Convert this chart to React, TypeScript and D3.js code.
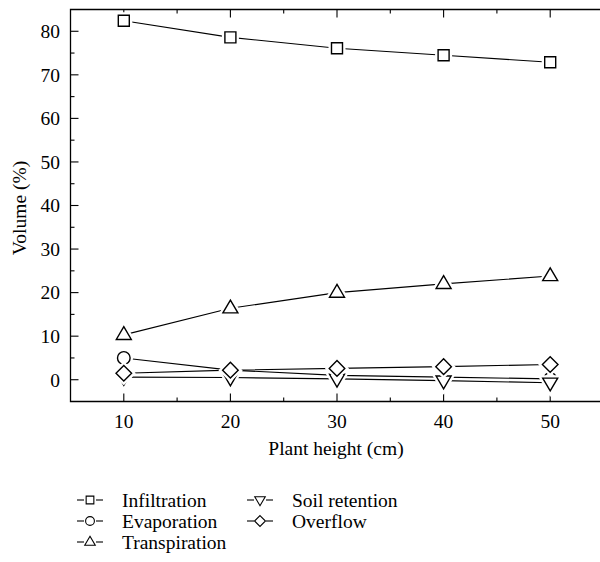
import React from "react";
import * as d3 from "d3";

const heights = [10, 20, 30, 40, 50];
const infiltration = [82.4, 78.6, 76.1, 74.5, 72.9];
const evaporation = [5.0, 2.2, 1.0, 0.6, 0.2];
const transpiration = [10.3, 16.4, 20.0, 22.0, 23.8];
const soilRetention = [0.6, 0.5, 0.2, -0.2, -0.7];
const overflow = [1.5, 2.2, 2.6, 3.0, 3.5];
const yTickValues = [0, 10, 20, 30, 40, 50, 60, 70, 80];
const xTickValues = [10, 20, 30, 40, 50];

type Shape = "square" | "circle" | "triangle" | "triangleDown" | "diamond";

const seriesList: { name: string; values: number[]; shape: Shape }[] = [
  { name: "Infiltration", values: infiltration, shape: "square" },
  { name: "Evaporation", values: evaporation, shape: "circle" },
  { name: "Transpiration", values: transpiration, shape: "triangle" },
  { name: "Soil retention", values: soilRetention, shape: "triangleDown" },
  { name: "Overflow", values: overflow, shape: "diamond" },
];

const FONT = "'Liberation Serif', 'DejaVu Serif', serif";
const FS = 19.5;

function markerPath(shape: Shape, cx: number, cy: number, k: number): string {
  const p = d3.path();
  if (shape === "square") {
    const h = 5.5 * k;
    p.rect(cx - h, cy - h, 2 * h, 2 * h);
  } else if (shape === "circle") {
    p.moveTo(cx + 6.3 * k, cy);
    p.arc(cx, cy, 6.3 * k, 0, Math.PI * 2);
  } else if (shape === "triangle") {
    const w = 7.5 * k, hTop = 8.2 * k, hBot = 4.6 * k;
    p.moveTo(cx, cy - hTop);
    p.lineTo(cx + w, cy + hBot);
    p.lineTo(cx - w, cy + hBot);
    p.closePath();
  } else if (shape === "triangleDown") {
    const w = 7.5 * k, hTop = 4.6 * k, hBot = 8.2 * k;
    p.moveTo(cx - w, cy - hTop);
    p.lineTo(cx + w, cy - hTop);
    p.lineTo(cx, cy + hBot);
    p.closePath();
  } else {
    const h = 7.8 * k;
    p.moveTo(cx, cy - h);
    p.lineTo(cx + h, cy);
    p.lineTo(cx, cy + h);
    p.lineTo(cx - h, cy);
    p.closePath();
  }
  return p.toString();
}

export default function App() {
  const left = 70.5, right = 603.5, top = 9.5, bottom = 401.5;
  const x = d3.scaleLinear().domain([5, 55]).range([left, right]);
  const y = d3.scaleLinear().domain([-5, 85]).range([bottom, top]);
  const line = d3
    .line<number>()
    .x((_, i) => x(heights[i]))
    .y((d) => y(d));

  const xMinor = d3.range(15, 55, 10);
  const yMinor = d3.range(-5, 85, 10).filter((v) => v > -5);

  const legendRows = [
    { s: seriesList[0], lx: 90, ly: 500 },
    { s: seriesList[1], lx: 90, ly: 521 },
    { s: seriesList[2], lx: 90, ly: 542 },
    { s: seriesList[3], lx: 260, ly: 500 },
    { s: seriesList[4], lx: 260, ly: 521 },
  ];

  return (
    <svg
      width={600}
      height={562}
      style={{ position: "absolute", left: 0, top: 0, background: "#fff" }}
      fontFamily={FONT}
    >
      <rect x={0} y={0} width={600} height={562} fill="#fff" />
      {/* frame */}
      <path
        d={`M${right},${top}H${left}V${bottom}H${right}`}
        fill="none"
        stroke="#000"
        strokeWidth={1.3}
      />
      {/* y ticks */}
      {yTickValues.map((v) => (
        <g key={"yt" + v}>
          <line x1={left} x2={left + 8} y1={y(v)} y2={y(v)} stroke="#000" strokeWidth={1.1} />
          <text x={60} y={y(v)} dy="0.35em" textAnchor="end" fontSize={FS}>
            {v}
          </text>
        </g>
      ))}
      {yMinor.map((v) => (
        <line key={"ym" + v} x1={left} x2={left + 4} y1={y(v)} y2={y(v)} stroke="#000" strokeWidth={1.1} />
      ))}
      {/* x ticks */}
      {xTickValues.map((v) => (
        <g key={"xt" + v}>
          <line x1={x(v)} x2={x(v)} y1={bottom} y2={bottom - 8} stroke="#000" strokeWidth={1.1} />
          <line x1={x(v)} x2={x(v)} y1={top} y2={top + 8} stroke="#000" strokeWidth={1.1} />
          <text x={x(v)} y={428} textAnchor="middle" fontSize={FS}>
            {v}
          </text>
        </g>
      ))}
      {xMinor.map((v) => (
        <g key={"xm" + v}>
          <line x1={x(v)} x2={x(v)} y1={bottom} y2={bottom - 4} stroke="#000" strokeWidth={1.1} />
          <line x1={x(v)} x2={x(v)} y1={top} y2={top + 4} stroke="#000" strokeWidth={1.1} />
        </g>
      ))}
      {/* axis titles */}
      <text x={336} y={455} textAnchor="middle" fontSize={FS}>
        Plant height (cm)
      </text>
      <text
        transform={`translate(26,208) rotate(-90)`}
        textAnchor="middle"
        fontSize={FS}
      >
        Volume (%)
      </text>
      {/* series */}
      {seriesList.map((s) => (
        <g key={s.name}>
          <path d={line(s.values) || ""} fill="none" stroke="#000" strokeWidth={1.1} />
          {s.values.map((v, i) => (
            <path
              key={"h" + i}
              d={markerPath(s.shape, x(heights[i]), y(v), 1)}
              fill="#fff"
              stroke="#fff"
              strokeWidth={6}
            />
          ))}
          {s.values.map((v, i) => (
            <path
              key={"m" + i}
              d={markerPath(s.shape, x(heights[i]), y(v), 1)}
              fill="#fff"
              stroke="#000"
              strokeWidth={1.4}
            />
          ))}
        </g>
      ))}
      {/* legend */}
      {legendRows.map(({ s, lx, ly }) => (
        <g key={"lg" + s.name}>
          <line x1={lx - 13} x2={lx - 6} y1={ly} y2={ly} stroke="#000" strokeWidth={1.1} />
          <line x1={lx + 6} x2={lx + 13} y1={ly} y2={ly} stroke="#000" strokeWidth={1.1} />
          <path d={markerPath(s.shape, lx, ly, 0.7)} fill="#fff" stroke="#000" strokeWidth={1.1} />
          <text x={lx + 32} y={ly} dy="0.35em" fontSize={FS}>
            {s.name}
          </text>
        </g>
      ))}
    </svg>
  );
}
